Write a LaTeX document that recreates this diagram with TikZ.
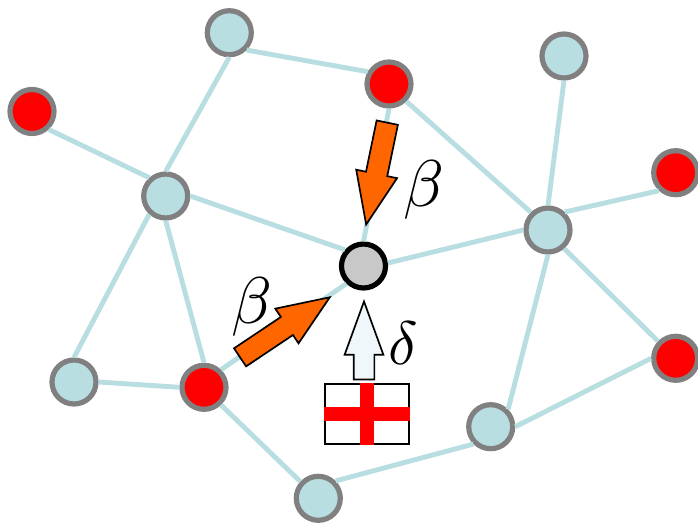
\documentclass[tikz,border=0pt]{standalone}
\usetikzlibrary{shapes.arrows}
\definecolor{linkblue}{HTML}{B8DEE2}
\definecolor{ringgray}{HTML}{808080}
\definecolor{hubgray}{HTML}{C8C8C8}
\definecolor{beamorange}{HTML}{FF6600}
\definecolor{paleblue}{HTML}{F0F7FA}
\begin{document}
\begin{tikzpicture}[x=1pt, y=-1pt,
  peer/.style={circle, draw=ringgray, line width=5.2pt, fill=linkblue, minimum size=44pt, inner sep=0pt},
  infected/.style={peer, fill=red},
  link/.style={draw=linkblue, line width=4.9pt},
  beam/.style={single arrow, draw=black, line width=1.7pt, fill=beamorange, inner xsep=0pt, inner ysep=10pt, minimum width=40pt, single arrow head extend=10pt, single arrow tip angle=44, anchor=tip},
  symbol/.style={font=\normalsize, scale=6.6, inner sep=0pt}]
\useasboundingbox (0,0) rectangle (698,524);
\node[peer] (top) at (229.3,32.7) {};
\node[infected] (upper) at (389,84) {};
\node[peer] (far) at (564,56) {};
\node[infected] (corner) at (32,111.5) {};
\node[peer] (west) at (165.7,196) {};
\node[infected] (rimtop) at (675.7,172.7) {};
\node[peer] (east) at (548,230) {};
\node[peer, draw=black, fill=hubgray] (hub) at (363.5,266) {};
\node[peer] (low) at (74,382) {};
\node[infected] (lower) at (204,387.3) {};
\node[infected] (rimlow) at (675.7,358.3) {};
\node[peer] (south) at (490.7,426.7) {};
\node[peer] (bottom) at (318.3,498.3) {};
\draw[link] (top.-45) -- (upper.150);
\draw[link] (top.south) -- (west.north);
\draw[link] (corner.-47) -- (west.132);
\draw[link] (west.east) -- (hub.139);
\draw[link] (west.228) -- (low.north);
\draw[link] (west.south) -- (lower.north);
\draw[link] (low.east) -- (lower.west);
\draw[link] (lower.46) -- (hub.226);
\draw[link] (lower.-46) -- (bottom.137);
\draw[link] (bottom.45) -- (south.225);
\draw[link] (south.45) -- (east.south);
\draw[link] (south.east) -- (rimlow.west);
\draw[link] (east.-49) -- (rimlow.136);
\draw[link] (east.47) -- (rimtop.227);
\draw[link] (east.north) -- (far.south);
\draw[link] (east.west) -- (hub.7);
\draw[link] (east.134) -- (upper.-45);
\draw[link] (upper.south) -- (hub.north);
\node[beam, minimum height=104pt, rotate=258.3] (beamtop) at (365.7,226.7) {};
\node[beam, minimum height=108pt, rotate=33.8] (beamlow) at (331.7,296) {};
\node[beam, fill=paleblue, minimum height=78pt, inner ysep=9.5pt, minimum width=37pt, single arrow head extend=9pt, single arrow tip angle=40, rotate=90] (probe) at (364,299) {};
\node[draw=black, line width=1.7pt, fill=white, minimum width=84pt, minimum height=60pt, inner sep=0pt] (flag) at (367,413.7) {};
\fill[red] (flag.north) ++(-7,0) rectangle ([xshift=7pt]flag.south);
\fill[red] (flag.west) ++(0,-7) rectangle ([yshift=-7pt]flag.east);
\node[symbol] (betatop) at (423.5,190) {$\beta$};
\node[symbol] (betalow) at (251.5,306.7) {$\beta$};
\node[symbol, scale=0.93] (deltaside) at (403.5,343.5) {$\delta$};
\end{tikzpicture}
\end{document}
